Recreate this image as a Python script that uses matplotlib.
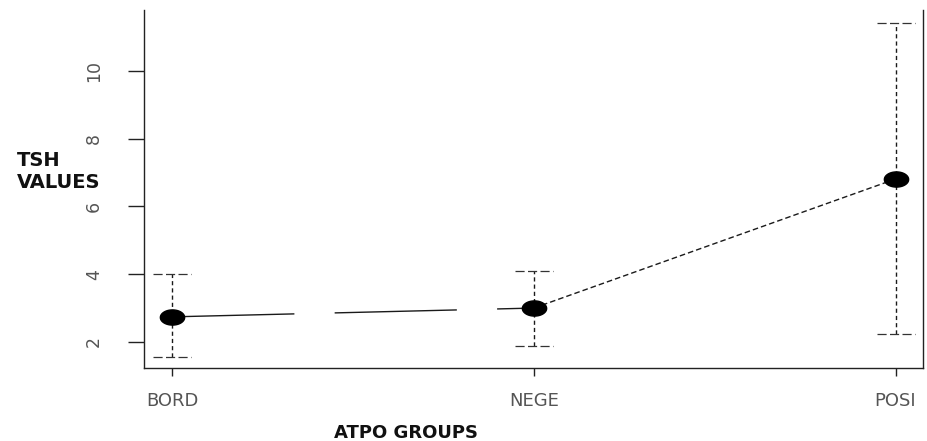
import matplotlib
matplotlib.use("Agg")
import matplotlib.pyplot as plt
import numpy as np
from matplotlib.path import Path

# ---- data ----
groups = ["BORD", "NEGE", "POSI"]
means = [2.74, 3.00, 6.81]
lower = [1.56, 1.88, 2.24]
upper = [4.01, 4.10, 11.42]
yticks = [2, 4, 6, 8, 10]
ytick_labels = ["2", "4", "6", "8", "10"]

plt.rcParams["font.family"] = ["DejaVu Sans"]

fig = plt.figure(figsize=(9.28, 4.41), dpi=100)
ax = fig.add_axes([144 / 928, 1 - 368 / 441, 779 / 928, 358 / 441])

x = np.arange(1, len(groups) + 1)
line_col = "#1a1a1a"

# connecting lines
ax.plot(x[0:2], means[0:2], color=line_col, lw=1.0,
        linestyle=(0, (88, 29)), zorder=2)
ax.plot(x[1:3], means[1:3], color=line_col, lw=1.0,
        linestyle=(0, (4, 2.2)), zorder=2)

# error bars (dashed) with dashed caps
cap_half = 0.0525
for xi, lo, hi in zip(x, lower, upper):
    ax.plot([xi, xi], [lo, hi], color=line_col, lw=1.0,
            linestyle=(0, (3, 2.2)), zorder=3)
    for yv in (lo, hi):
        ax.plot([xi - cap_half, xi + cap_half], [yv, yv], color="#333333",
                lw=0.9, linestyle=(0, (7.3, 2.7)), zorder=3)

# elliptical markers (picture is horizontally stretched)
t = np.linspace(0, 2 * np.pi, 60)
ell = Path(np.column_stack([1.6 * np.cos(t), np.sin(t)]), closed=True)
ax.plot(x, means, linestyle="none", marker=ell, markersize=17.5,
        color="black", markeredgecolor="black", zorder=4)

ax.set_xlim(0.922, 3.076)
ax.set_ylim(1.23, 11.8)

ax.set_xticks(x)
ax.set_xticklabels(groups, fontsize=13, color="#555555")
ax.set_yticks(yticks)
ax.set_yticklabels(ytick_labels, fontsize=12.5, color="#555555",
                   rotation=90, va="center")

ax.tick_params(axis="x", length=6, width=1.0, pad=11, color="#222222")
ax.tick_params(axis="y", length=11.5, width=1.0, pad=18, color="#222222")

for s in ("left", "bottom", "right"):
    ax.spines[s].set_linewidth(1.0)
    ax.spines[s].set_color("#222222")
ax.spines["top"].set_visible(False)

ax.set_ylabel("TSH\nVALUES", rotation=0, fontsize=14, fontweight="bold",
              ha="left", va="center", linespacing=1.2, color="#111111")
ax.yaxis.set_label_coords(-0.163, 0.55)
ax.set_xlabel("ATPO GROUPS", fontsize=13, fontweight="bold",
              ha="center", va="center", color="#111111")
ax.xaxis.set_label_coords(0.336, -0.1816)

fig.savefig("out.png", dpi=100)
